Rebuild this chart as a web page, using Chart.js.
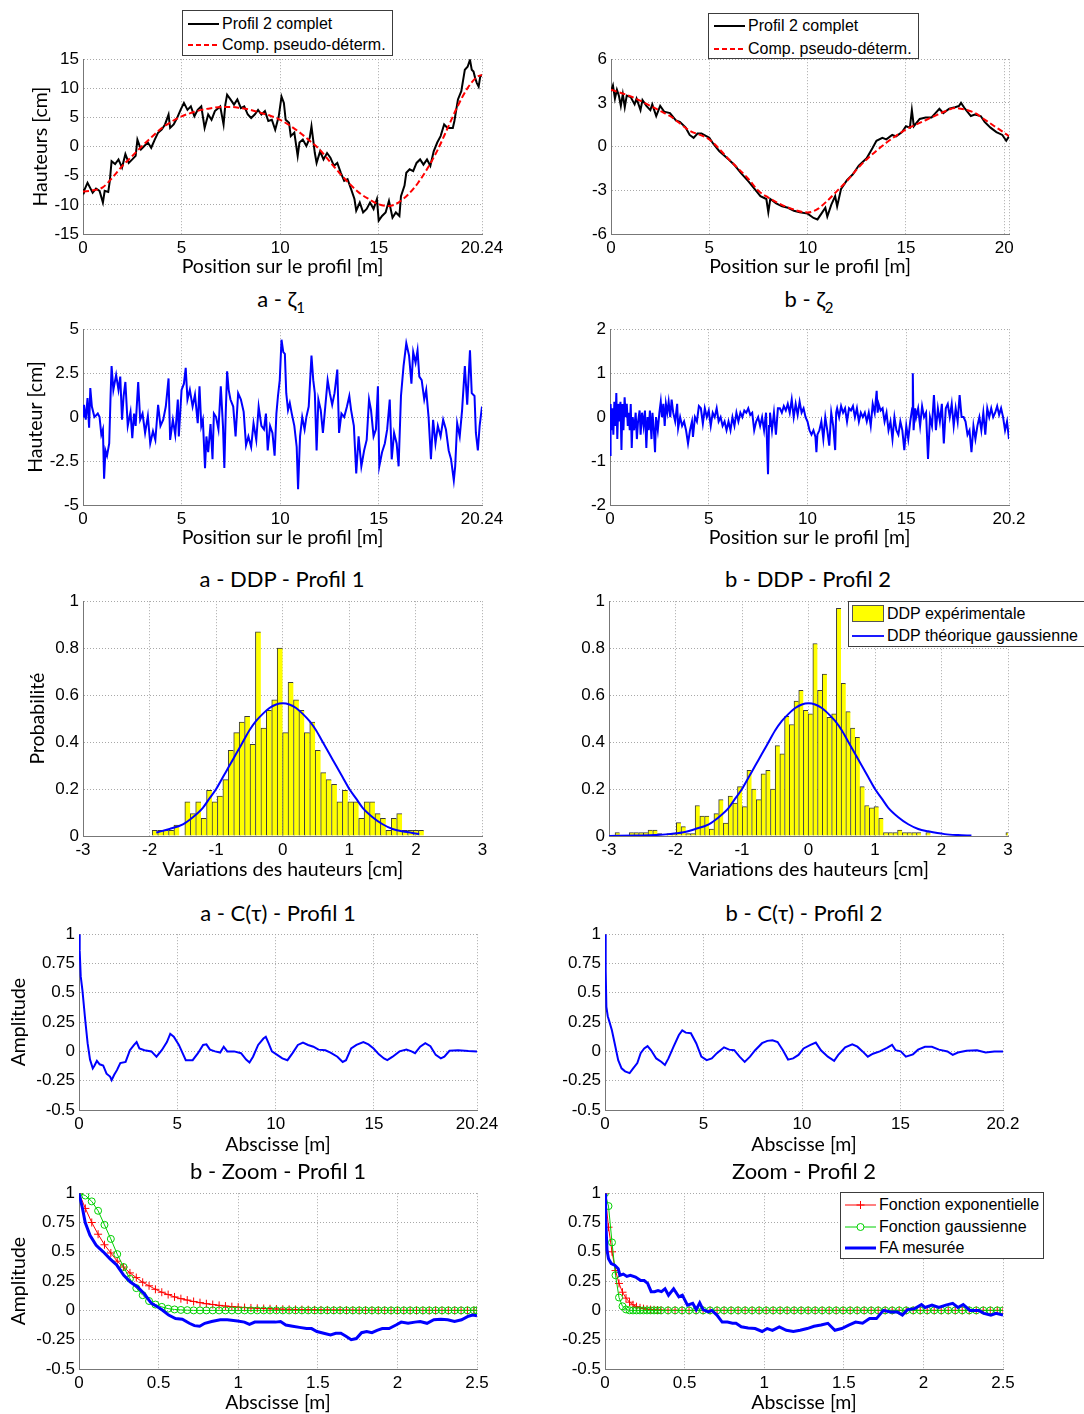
<!DOCTYPE html>
<html lang="fr">
<head>
<meta charset="utf-8">
<title>Profils - DDP - fonctions d'autocorrelation</title>
<script src="https://cdn.jsdelivr.net/npm/chart.js@4.4.1/dist/chart.umd.min.js"></script>
<style>
  html, body { margin: 0; padding: 0; background: #fff; }
  body { position: relative; width: 1084px; height: 1414px; overflow: hidden; font-family: "Liberation Sans", Arial, sans-serif; }
  canvas { position: absolute; }
  .ttl { position: absolute; transform: translate(-50%, -50%); font-family: Lato, "DejaVu Sans", sans-serif; font-size: 22px; color: #000; white-space: nowrap; }
  .ttl sub { font-size: 15px; vertical-align: -6px; }
  .leg { position: absolute; box-sizing: border-box; background: #fff; border: 1px solid #3c3c3c; font-size: 16px; color: #000; }
  .leg .row { position: absolute; height: 20px; display: flex; align-items: center; white-space: nowrap; }
  .leg svg { margin-right: 3px; }
</style>
</head>
<body>
<script>
// ---- profil 1 complet + composante pseudo-deterministe
var P1_X = [0,0.05,0.23,0.35,0.49,0.66,0.84,1.01,1.10,1.28,
  1.36,1.45,1.63,1.80,1.98,2.15,2.32,2.50,2.67,2.76,
  2.94,3.11,3.29,3.46,3.64,3.81,3.99,4.16,4.34,4.42,
  4.60,4.77,4.95,5.12,5.30,5.47,5.65,5.82,6.00,6.17,
  6.35,6.52,6.69,6.96,7.13,7.22,7.31,7.48,7.66,7.83,
  8.01,8.18,8.36,8.53,8.71,8.88,9.05,9.23,9.40,9.58,
  9.75,9.93,10.07,10.19,10.28,10.45,10.54,10.72,10.89,10.98,
  11.15,11.33,11.50,11.59,11.76,11.85,12.03,12.20,12.38,12.55,
  12.73,12.90,13.08,13.25,13.42,13.60,13.77,13.86,14.04,14.21,
  14.39,14.56,14.74,14.91,15.00,15.17,15.35,15.52,15.70,15.87,
  16.05,16.13,16.31,16.40,16.57,16.75,16.92,17.10,17.27,17.45,
  17.62,17.79,17.97,18.14,18.32,18.49,18.76,18.84,19.02,19.19,
  19.37,19.51,19.63,19.72,19.81,19.89,19.98,20.07,20.15,20.24];
var P1_Y = [-7.3,-7.6,-6.2,-7.0,-7.9,-7.2,-7.6,-9.6,-7.6,-7.8,
  -5.9,-2.5,-3.0,-2.2,-3.6,-1.3,-2.8,-2.2,-1.6,1.2,
  -0.5,0.1,0.7,-0.2,1.2,2.4,2.9,3.8,5.5,3.2,
  3.8,4.9,6.3,7.5,6.3,6.9,5.2,6.3,6.9,3.2,
  5.5,4.6,6.1,6.9,3.8,7.2,8.9,8.1,7.2,8.1,
  6.6,6.9,5.5,4.9,5.5,6.3,5.5,6.1,4.4,4.6,
  2.9,5.2,8.6,7.5,4.6,4.1,1.8,2.4,-1.6,0.7,
  1.2,0.1,1.5,3.5,-1.1,-2.8,-0.8,-2.2,-1.1,-1.9,
  -3.3,-2.8,-4.5,-5.9,-5.6,-7.3,-9.0,-11.0,-9.6,-11.3,
  -10.7,-9.6,-10.7,-9.0,-12.7,-11.9,-11.3,-9.3,-12.2,-11.3,
  -11.9,-8.5,-6.7,-4.5,-3.9,-4.2,-2.8,-2.2,-3.1,-2.2,
  -3.3,-0.8,0.7,1.8,3.8,3.2,3.2,4.4,8.1,9.5,
  13.2,13.7,14.9,13.2,12.9,11.8,10.9,10.3,12.0,12.3];
var P1_TREND_X = [0,0.5,1,1.5,2,2.5,3,3.5,4,4.5,5,5.5,6,6.5,7,7.5,8,8.5,9,9.5,
  10,10.5,11,11.5,12,12.5,13,13.5,14,14.5,15,15.5,16,16.5,17,17.5,18,18.5,19,19.5,20,20.24];
var P1_TREND_Y = [-7.7,-7.5,-7.0,-5.3,-3.3,-1.6,0.1,1.7,3.2,4.3,5.2,5.8,6.3,6.6,6.8,6.8,6.6,6.3,5.8,5.3,
  4.6,3.6,2.4,1.0,-0.5,-2.5,-4.5,-6.3,-7.9,-9.0,-9.9,-10.2,-9.6,-8.2,-6.2,-3.6,-0.5,3.2,6.9,10.0,12.0,12.3];

// ---- profil 2 complet + composante pseudo-deterministe
var P2_X = [0,0.1,0.2,0.3,0.4,0.5,0.6,0.7,0.8,1.0,
  1.2,1.3,1.5,1.6,1.8,2.0,2.1,2.3,2.5,2.7,
  3.0,3.3,3.5,3.8,4.0,4.2,4.4,4.6,5.0,5.2,
  5.5,6.0,6.3,6.6,7.0,7.3,7.6,7.9,8.0,8.1,
  8.4,8.7,9.0,9.3,9.6,10.0,10.3,10.5,10.7,10.9,
  11.0,11.2,11.4,11.5,11.7,12.0,12.3,12.6,13.0,13.3,
  13.5,13.8,14.0,14.3,14.5,14.8,15.0,15.2,15.3,15.4,
  15.7,16.0,16.3,16.5,16.7,16.9,17.2,17.5,17.7,17.8,
  18.0,18.3,18.5,18.8,19.0,19.3,19.6,19.9,20.1,20.24];
var P2_Y = [3.8,4.2,3.3,3.9,3.5,2.8,3.6,2.7,3.5,3.4,
  2.9,3.3,2.5,3.2,2.8,2.5,2.9,2.1,2.8,2.4,
  2.3,1.8,1.7,1.3,0.8,0.6,0.9,0.9,0.6,0.2,
  -0.3,-0.9,-1.3,-1.8,-2.4,-2.9,-3.4,-3.6,-4.5,-3.6,
  -3.9,-4.1,-4.2,-4.4,-4.5,-4.6,-4.9,-5.0,-4.6,-4.2,
  -4.8,-4.0,-3.4,-4.1,-2.9,-2.3,-1.9,-1.3,-0.8,-0.1,
  0.4,0.6,0.5,0.8,0.7,1.0,1.4,1.3,2.5,1.4,
  1.9,2.0,2.0,2.3,2.6,2.3,2.6,2.7,2.8,3.0,
  2.6,2.1,2.2,2.1,1.7,1.3,1.0,0.8,0.4,0.7];
var P2_TREND_X = [0,1,2,2.5,3,4,5,6,7,7.5,8,8.5,9,10,10.5,11,11.5,12,12.5,13,
  14,15,16,16.5,17,17.5,18,18.5,19,19.5,20,20.24];
var P2_TREND_Y = [3.9,3.45,2.8,2.45,2.1,1.1,0.49,-0.88,-2.24,-3.04,-3.5,-3.88,-4.18,-4.52,-4.29,-3.72,-3.04,-2.36,-1.56,-0.88,
  0.26,1.17,1.81,2.13,2.43,2.65,2.54,2.31,1.86,1.4,0.95,0.72];

// ---- composante aleatoire zeta 1
var Z1_X = [0,0.05,0.14,0.23,0.31,0.37,0.45,0.58,0.75,0.84,
  0.93,1.01,1.07,1.14,1.22,1.33,1.40,1.45,1.54,1.68,
  1.80,1.89,1.98,2.06,2.15,2.27,2.41,2.50,2.59,2.67,
  2.80,2.90,3.02,3.15,3.29,3.41,3.55,3.67,3.81,3.93,
  4.07,4.20,4.34,4.42,4.56,4.68,4.81,4.86,5.00,5.12,
  5.21,5.30,5.42,5.56,5.68,5.82,5.91,6.00,6.08,6.19,
  6.26,6.35,6.47,6.57,6.64,6.75,6.87,6.99,7.10,7.17,
  7.24,7.31,7.39,7.48,7.62,7.74,7.87,8.01,8.15,8.27,
  8.39,8.53,8.65,8.79,8.91,9.05,9.18,9.28,9.37,9.49,
  9.61,9.72,9.81,9.89,9.98,10.07,10.16,10.24,10.31,10.40,
  10.49,10.59,10.72,10.84,10.91,11.01,11.12,11.24,11.33,11.45,
  11.59,11.68,11.76,11.85,11.94,12.06,12.17,12.29,12.41,12.52,
  12.64,12.76,12.90,12.99,13.11,13.25,13.39,13.51,13.60,13.74,
  13.86,13.98,14.12,14.26,14.39,14.51,14.61,14.74,14.86,14.96,
  15.03,15.17,15.31,15.43,15.56,15.66,15.78,15.91,16.01,16.13,
  16.26,16.40,16.54,16.66,16.75,16.87,16.97,17.06,17.18,17.31,
  17.41,17.53,17.65,17.76,17.88,18.00,18.14,18.27,18.41,18.55,
  18.67,18.81,18.88,18.98,19.11,19.23,19.37,19.49,19.63,19.72,
  19.86,19.93,20.03,20.12,20.24];
var Z1_Y = [0.04,0.7,-0.15,1.08,-0.6,1.65,0.6,0,0.2,0,
  -1.0,-0.7,-3.5,-1.9,-2.2,-1.5,1.27,2.9,1.55,2.4,
  1.55,2.3,-0.15,1.2,2.0,-0.5,0.3,-1.2,0.2,-0.5,
  2.0,-0.15,0.2,-0.9,0.06,-1.5,-0.8,-1.3,0.7,-0.5,
  -0.15,0.6,2.2,-1.3,-0.15,-1.0,1.0,-1.1,1.55,1.9,
  2.8,1.0,1.55,0.6,1.27,-0.35,1.75,-0.5,-0.15,-2.9,
  -1.1,-2.0,-0.4,-2.4,0.2,0,-0.7,1.75,-0.5,-2.9,
  0.2,2.6,1.55,1.0,0.6,-1.1,1.36,1.0,0.3,-1.6,
  -1.1,-1.7,-0.35,-1.3,0.6,-0.5,-0.7,0.2,-1.9,-0.5,
  -0.9,-2.2,0.2,1.2,2.1,4.4,3.7,3.6,1.36,0.4,
  0.8,0.2,-0.5,-1.7,-4.1,-1.1,0,-0.7,0,0.6,
  3.5,2.1,1.36,-1.9,1.0,0.4,-0.9,0.6,2.1,1.36,
  0.7,1.36,2.7,-0.9,0.2,0,0.6,1.2,0.4,-0.5,
  -3.2,-1.1,-2.8,-1.9,-1.3,1.0,0.4,-1.1,-0.7,1.75,
  -2.8,-2.0,-1.5,-0.7,1.0,-2.4,-0.9,-1.5,-2.8,1.2,
  2.9,4.2,3.5,1.9,3.7,3.1,3.8,2.3,2.1,1.0,
  1.55,0,-2.4,-0.15,-1.5,-0.5,-1.1,-0.15,-0.7,-1.9,
  -2.4,-3.6,-2.8,-0.35,-1.1,0.4,2.9,0.7,3.8,1.36,
  1.2,-0.9,-1.9,-0.5,0.6];

// ---- composante aleatoire zeta 2
var Z2_X = [0,0.03,0.08,0.12,0.17,0.22,0.27,0.32,0.37,0.42,
  0.48,0.53,0.58,0.63,0.68,0.74,0.8,0.85,0.9,0.95,
  1,1.05,1.1,1.15,1.22,1.3,1.36,1.42,1.5,1.55,
  1.62,1.7,1.77,1.84,1.9,1.96,2.02,2.1,2.15,2.22,
  2.28,2.33,2.42,2.5,2.57,2.63,2.7,2.77,2.83,2.9,
  2.97,3.05,3.12,3.2,3.3,3.4,3.45,3.55,3.65,3.75,
  3.85,3.95,4.05,4.15,4.2,4.3,4.4,4.5,4.6,4.7,
  4.8,4.9,5,5.1,5.2,5.3,5.4,5.5,5.6,5.7,
  5.8,5.9,6,6.1,6.2,6.3,6.4,6.5,6.6,6.7,
  6.8,6.9,7,7.1,7.2,7.3,7.4,7.5,7.6,7.7,
  7.8,7.9,8,8.05,8.1,8.2,8.3,8.4,8.5,8.6,
  8.7,8.8,8.9,9,9.1,9.2,9.3,9.4,9.5,9.6,
  9.7,9.8,9.9,10,10.1,10.2,10.3,10.4,10.45,10.5,
  10.6,10.7,10.8,10.9,11,11.1,11.2,11.3,11.4,11.45,
  11.5,11.6,11.7,11.8,11.9,12,12.1,12.2,12.3,12.4,
  12.5,12.6,12.7,12.8,12.9,13,13.1,13.2,13.3,13.4,
  13.5,13.55,13.6,13.7,13.8,13.9,14,14.1,14.2,14.3,
  14.4,14.5,14.6,14.7,14.8,14.9,15,15.1,15.2,15.3,
  15.33,15.37,15.45,15.5,15.6,15.7,15.8,15.9,16,16.1,
  16.2,16.3,16.4,16.5,16.6,16.7,16.8,16.9,17,17.1,
  17.2,17.3,17.4,17.5,17.6,17.7,17.8,17.9,18,18.1,
  18.2,18.3,18.4,18.5,18.6,18.7,18.8,18.9,19,19.1,
  19.2,19.3,19.4,19.5,19.6,19.7,19.8,19.9,20,20.1,
  20.2];
var Z2_Y = [-0.86,0.3,-0.3,0.2,-0.4,0.35,-0.2,0.55,-0.5,0.3,
  -0.1,0.35,-0.75,0.3,-0.3,0.45,0,0.3,-0.2,0.1,
  -0.3,0.3,-0.7,0,-0.3,0.1,-0.5,-0.1,0.15,-0.4,
  0.1,-0.2,0.15,-0.7,0,-0.3,0.15,-0.5,0.1,-0.3,
  -0.8,0,-0.3,0.1,0.35,0,0.3,-0.2,0.3,0.1,
  0.35,0,0.4,0.1,-0.1,0.3,-0.25,0,-0.2,-0.1,
  -0.3,-0.6,-0.3,-0.1,-0.45,0,-0.1,0.25,0.2,-0.15,
  0.2,0,0.15,-0.2,0.1,0,0.2,-0.1,0,-0.2,
  -0.1,-0.3,-0.1,-0.3,0,-0.2,0.1,-0.1,0.1,0,
  0.15,0.1,0.2,0.05,0.1,-0.3,-0.1,0,-0.2,0,
  -0.3,0.1,-1.3,-0.2,0.1,-0.3,0.1,-0.4,0.2,0.2,
  0.1,0.25,0.15,0.3,0.1,0.4,0,0.3,0.05,0.35,
  0.1,0.2,0,-0.1,-0.3,-0.4,-0.3,-0.45,-0.8,-0.4,
  -0.3,-0.1,-0.5,0,-0.3,-0.65,0.1,-0.2,-0.75,0.1,
  0.2,0,0.25,0.1,0.2,-0.1,0.2,0.15,0.25,0,
  0.2,-0.1,0.1,0,0.1,-0.1,0.1,-0.2,0.3,0.1,
  0.6,0.1,0.3,0.15,0.2,-0.1,0.1,-0.3,-0.1,-0.5,
  0,-0.3,-0.4,-0.1,-0.3,-0.75,-0.2,-0.5,-0.1,0.2,
  1.0,-0.3,0.2,0,0.2,-0.2,0.25,0,0.1,-0.95,
  0,-0.2,0.5,-0.3,0.2,-0.1,0.3,-0.6,0.2,0.3,
  0,0.3,-0.2,0.2,-0.1,0.5,0,0,-0.1,-0.4,
  -0.3,-0.8,-0.2,-0.5,-0.2,0,-0.3,0.1,-0.4,0.2,
  0,0.2,0,0.1,0.25,0.05,0.2,0,-0.3,-0.1,
  -0.5];

// ---- DDP experimentales (centres de classes, probabilite)
var H1_X = [-1.920,-1.838,-1.757,-1.675,-1.594,-1.512,-1.430,-1.349,-1.267,-1.186,
  -1.104,-1.022,-0.941,-0.859,-0.778,-0.696,-0.614,-0.533,-0.451,-0.370,
  -0.288,-0.206,-0.125,-0.043,0.038,0.120,0.202,0.283,0.365,0.446,
  0.528,0.610,0.691,0.773,0.854,0.936,1.018,1.099,1.181,1.262,
  1.344,1.426,1.507,1.589,1.670,1.752,1.834,1.915,1.997,2.078];
var H1_Y = [0.024,0.024,0.024,0.024,0.047,0,0.145,0.095,0.145,0.075,
  0.195,0.145,0.17,0.24,0.365,0.44,0.485,0.51,0.39,0.87,
  0.46,0.535,0.58,0.80,0.44,0.655,0.58,0.535,0.44,0.485,
  0.365,0.27,0.24,0.22,0.145,0.195,0.145,0.145,0.075,0.145,
  0.145,0.095,0.075,0.024,0.075,0.095,0.024,0.024,0.024,0.024];
var H2_X = [-2.874,-2.661,-2.590,-2.520,-2.449,-2.378,-2.307,-2.236,-2.095,-2.024,
  -1.953,-1.882,-1.812,-1.741,-1.670,-1.599,-1.528,-1.458,-1.387,-1.316,
  -1.245,-1.174,-1.104,-1.033,-0.962,-0.891,-0.820,-0.750,-0.679,-0.608,
  -0.537,-0.466,-0.396,-0.325,-0.254,-0.183,-0.112,-0.042,0.029,0.100,
  0.171,0.242,0.312,0.383,0.454,0.525,0.596,0.666,0.737,0.808,
  0.879,0.950,1.020,1.091,1.162,1.233,1.304,1.374,1.445,1.516,
  1.587,1.658,1.799,3.003];
var H2_Y = [0.015,0.015,0.015,0.015,0.015,0.025,0.025,0.01,0.01,0.01,
  0.057,0.04,0.01,0.01,0.13,0.085,0.085,0.03,0.095,0.155,
  0.055,0.17,0.14,0.21,0.125,0.28,0.2,0.155,0.265,0.28,
  0.2,0.385,0.35,0.51,0.475,0.575,0.62,0.535,0.52,0.82,
  0.62,0.69,0.505,0.52,0.97,0.65,0.53,0.46,0.42,0.21,
  0.13,0.12,0.125,0.075,0.015,0.015,0.015,0.025,0.015,0.015,
  0.015,0.015,0.015,0.015];

// ---- DDP theoriques gaussiennes
var G1_X = [-1.9,-1.7,-1.5,-1.35,-1.2,-1.1,-1.0,-0.9,-0.8,-0.7,
  -0.6,-0.5,-0.4,-0.3,-0.2,-0.1,0,0.1,0.2,0.3,
  0.4,0.5,0.6,0.7,0.8,0.9,1.0,1.1,1.2,1.35,
  1.5,1.65,1.8,2.05];
var G1_Y = [0.015,0.03,0.05,0.08,0.12,0.16,0.2,0.25,0.3,0.35,
  0.4,0.45,0.49,0.52,0.545,0.56,0.565,0.56,0.545,0.52,
  0.49,0.45,0.4,0.35,0.3,0.25,0.2,0.16,0.12,0.08,
  0.05,0.03,0.02,0.008];
var G2_X = [-3,-2.6,-2.3,-2.1,-1.9,-1.7,-1.5,-1.35,-1.2,-1.1,
  -1.0,-0.9,-0.8,-0.7,-0.6,-0.5,-0.4,-0.3,-0.2,-0.1,
  0,0.1,0.2,0.3,0.4,0.5,0.6,0.7,0.8,0.9,
  1.0,1.1,1.2,1.35,1.5,1.65,1.8,2.05,2.25,2.45];
var G2_Y = [0,0.002,0.004,0.008,0.015,0.03,0.05,0.08,0.12,0.16,
  0.2,0.25,0.3,0.35,0.4,0.45,0.49,0.52,0.545,0.56,
  0.565,0.56,0.545,0.52,0.49,0.45,0.4,0.35,0.3,0.25,
  0.2,0.16,0.12,0.08,0.05,0.03,0.02,0.008,0.004,0.002];

// ---- fonctions d'autocorrelation mesurees
var C1_X = [0,0.035,0.088,0.175,0.315,0.438,0.56,0.70,0.79,0.91,
  1.05,1.23,1.40,1.58,1.66,1.79,1.93,2.10,2.37,2.59,
  2.80,2.93,3.07,3.33,3.68,3.94,4.21,4.47,4.64,4.82,
  5.08,5.43,5.78,6.05,6.31,6.48,6.66,6.92,7.18,7.36,
  7.54,7.89,8.24,8.50,8.67,8.85,9.11,9.38,9.50,9.64,
  9.81,10.08,10.34,10.60,10.86,11.13,11.39,11.65,11.92,12.18,
  12.53,12.79,13.14,13.41,13.58,13.84,14.11,14.46,14.72,14.98,
  15.25,15.51,15.68,15.95,16.30,16.65,16.91,17.09,17.35,17.61,
  17.87,18.14,18.40,18.58,18.84,19.28,19.80,20.24];
var C1_Y = [1.0,0.86,0.64,0.52,0.27,0.07,-0.07,-0.145,-0.12,-0.08,
  -0.11,-0.12,-0.19,-0.215,-0.245,-0.2,-0.16,-0.1,-0.09,0.01,
  0.055,0.08,0.025,0.01,0.0,-0.045,0.01,0.08,0.15,0.125,
  0.055,-0.075,-0.075,-0.015,0.055,0.06,0.015,0.0,-0.01,0.04,
  0.0,0.0,-0.015,-0.07,-0.095,-0.045,0.055,0.11,0.125,0.07,
  0.0,-0.03,-0.06,-0.075,-0.015,0.055,0.075,0.055,0.04,0.015,
  0.01,-0.01,-0.045,-0.09,-0.075,0.025,0.055,0.08,0.06,0.025,
  -0.025,-0.06,-0.075,-0.045,0.0,0.015,0.0,-0.015,0.04,0.07,
  0.045,-0.03,-0.06,-0.045,0.005,0.01,0.003,0.0];
var C2_X = [0,0.035,0.07,0.14,0.23,0.35,0.49,0.67,0.84,1.02,
  1.25,1.43,1.64,1.81,1.99,2.16,2.34,2.60,2.87,3.04,
  3.22,3.48,3.75,3.92,4.10,4.36,4.63,4.89,5.16,5.42,
  5.68,6.04,6.30,6.56,6.83,7.09,7.36,7.62,7.97,8.24,
  8.50,8.76,9.03,9.29,9.55,9.82,10.08,10.43,10.70,10.96,
  11.31,11.63,11.84,12.19,12.55,12.81,13.07,13.34,13.60,13.95,
  14.31,14.57,14.75,15.01,15.27,15.63,15.89,16.24,16.59,16.95,
  17.38,17.65,17.91,18.35,18.88,19.32,19.76,20.2];
var C2_Y = [1.0,0.69,0.38,0.30,0.25,0.18,0.07,-0.075,-0.145,-0.17,
  -0.185,-0.145,-0.1,-0.015,0.025,0.045,0.01,-0.06,-0.09,-0.115,
  -0.06,0.04,0.14,0.18,0.16,0.155,0.07,-0.045,-0.075,-0.06,
  -0.015,0.035,0.015,0.01,-0.045,-0.09,-0.045,0.01,0.07,0.09,
  0.095,0.08,0.01,-0.07,-0.06,-0.03,0.025,0.055,0.075,0.01,
  -0.045,-0.08,-0.03,0.035,0.06,0.04,0.0,-0.045,-0.02,0.0,
  0.03,0.055,0.01,0.0,-0.045,-0.025,0.015,0.04,0.04,0.015,
  0.0,-0.03,-0.01,0.005,0.01,-0.01,0.0,0.0];

// ---- zoom : FA mesuree + modeles exponentiel / gaussien
var F1_X = [0,0.022,0.039,0.069,0.108,0.152,0.195,0.238,0.281,0.325,
  0.368,0.411,0.455,0.487,0.519,0.563,0.606,0.649,0.693,0.725,
  0.758,0.790,0.833,0.887,0.931,0.996,1.039,1.071,1.104,1.169,
  1.234,1.266,1.299,1.342,1.385,1.429,1.461,1.494,1.537,1.580,
  1.613,1.645,1.677,1.710,1.742,1.775,1.807,1.840,1.872,1.905,
  1.948,1.991,2.024,2.067,2.110,2.143,2.186,2.229,2.273,2.316,
  2.359,2.403,2.446,2.472,2.5];
var F1_Y = [1.0,0.87,0.75,0.64,0.555,0.50,0.44,0.385,0.30,0.24,
  0.20,0.14,0.06,0.035,0.007,-0.04,-0.07,-0.075,-0.11,-0.13,
  -0.135,-0.11,-0.095,-0.08,-0.08,-0.09,-0.10,-0.12,-0.10,-0.10,
  -0.10,-0.095,-0.125,-0.135,-0.145,-0.155,-0.155,-0.18,-0.195,-0.21,
  -0.195,-0.195,-0.22,-0.25,-0.24,-0.19,-0.18,-0.19,-0.17,-0.155,
  -0.155,-0.125,-0.10,-0.11,-0.10,-0.095,-0.11,-0.08,-0.075,-0.08,
  -0.095,-0.08,-0.05,-0.04,-0.045];
var M1_X = [0,0.04,0.08,0.12,0.16,0.2,0.24,0.28,0.32,0.36,
  0.4,0.44,0.48,0.52,0.56,0.6,0.64,0.68,0.72,0.76,
  0.8,0.84,0.88,0.92,0.96,1,1.04,1.08,1.12,1.16,
  1.2,1.24,1.28,1.32,1.36,1.4,1.44,1.48,1.52,1.56,
  1.6,1.64,1.68,1.72,1.76,1.8,1.84,1.88,1.92,1.96,
  2,2.04,2.08,2.12,2.16,2.2,2.24,2.28,2.32,2.36,
  2.4,2.44,2.48,2.5];
var EXP1_Y = [1.0,0.87,0.75,0.65,0.56,0.49,0.42,0.37,0.32,0.28,
  0.24,0.21,0.18,0.155,0.135,0.115,0.1,0.088,0.076,0.066,
  0.057,0.05,0.043,0.037,0.032,0.028,0.024,0.021,0.018,0.016,
  0.014,0.012,0.01,0.009,0.008,0.007,0.006,0.005,0.004,0.004,
  0.003,0.003,0.002,0.002,0.001,0.001,0.001,0.001,0,0,
  0,0,0,0,0,0,0,0,0,0,
  0,0,0,0];
var GAU1_Y = [1.0,0.98,0.93,0.85,0.73,0.61,0.48,0.37,0.27,0.19,
  0.13,0.08,0.05,0.03,0.015,0.008,0.004,0.002,0,0,
  0,0,0,0,0,0,0,0,0,0,
  0,0,0,0,0,0,0,0,0,0,
  0,0,0,0,0,0,0,0,0,0,
  0,0,0,0,0,0,0,0,0,0,
  0,0,0,0];
var F2_X = [0,0.004,0.009,0.013,0.022,0.039,0.061,0.083,0.094,0.115,
  0.137,0.159,0.192,0.224,0.246,0.268,0.29,0.311,0.333,0.355,
  0.377,0.399,0.431,0.464,0.486,0.518,0.551,0.573,0.595,0.616,
  0.649,0.671,0.703,0.736,0.769,0.801,0.823,0.856,0.899,0.943,
  0.987,1.019,1.052,1.095,1.139,1.183,1.226,1.27,1.313,1.357,
  1.400,1.444,1.487,1.531,1.574,1.618,1.662,1.705,1.749,1.792,
  1.836,1.868,1.901,1.945,1.988,2.010,2.054,2.097,2.141,2.184,
  2.217,2.250,2.293,2.348,2.38,2.424,2.456,2.5];
var F2_Y = [1.0,0.80,0.63,0.51,0.44,0.40,0.385,0.355,0.30,0.31,
  0.29,0.30,0.285,0.255,0.255,0.23,0.16,0.16,0.17,0.16,
  0.185,0.13,0.185,0.115,0.13,0.045,0.06,0.007,0.065,0.007,
  -0.013,0.0,-0.04,-0.10,-0.10,-0.11,-0.11,-0.14,-0.15,-0.155,
  -0.18,-0.155,-0.17,-0.14,-0.17,-0.18,-0.17,-0.155,-0.135,-0.125,
  -0.11,-0.17,-0.155,-0.125,-0.10,-0.11,-0.07,-0.07,0.0,-0.013,
  -0.013,-0.04,0.007,0.015,0.05,0.025,0.045,0.025,0.045,0.06,
  0.025,0.05,0.0,0.0,-0.025,-0.04,-0.025,-0.04];
var M2_X = [0,0.022,0.044,0.066,0.088,0.11,0.132,0.154,0.176,0.198,
  0.22,0.242,0.264,0.286,0.308,0.33,0.352,0.396,0.44,0.484,
  0.528,0.572,0.616,0.66,0.704,0.748,0.792,0.836,0.88,0.924,
  0.968,1.012,1.056,1.1,1.144,1.188,1.232,1.276,1.32,1.364,
  1.408,1.452,1.496,1.54,1.584,1.628,1.672,1.716,1.76,1.804,
  1.848,1.892,1.936,1.98,2.024,2.068,2.112,2.156,2.2,2.244,
  2.288,2.332,2.376,2.42,2.464,2.5];
var EXP2_Y = [1.0,0.71,0.5,0.34,0.23,0.155,0.105,0.07,0.048,0.032,
  0.022,0.015,0.01,0.007,0.005,0.003,0.002,0.001,0.001,0,
  0,0,0,0,0,0,0,0,0,0,
  0,0,0,0,0,0,0,0,0,0,
  0,0,0,0,0,0,0,0,0,0,
  0,0,0,0,0,0,0,0,0,0,
  0,0,0,0,0,0];
var GAU2_Y = [1.0,0.89,0.58,0.3,0.11,0.035,0.008,0.001,0,0,
  0,0,0,0,0,0,0,0,0,0,
  0,0,0,0,0,0,0,0,0,0,
  0,0,0,0,0,0,0,0,0,0,
  0,0,0,0,0,0,0,0,0,0,
  0,0,0,0,0,0,0,0,0,0,
  0,0,0,0,0,0];

// ---- graduations
var XT_PROF1 = [0,5,10,15,20.24];          var XL_PROF1 = ['0','5','10','15','20.24'];
var XT_PROF2 = [0,5,10,15,20,20.24];       var XL_PROF2 = ['0','5','10','15','20',''];
var XT_PROF2B = [0,5,10,15,20.2];          var XL_PROF2B = ['0','5','10','15','20.2'];
var YT_H1 = [-15,-10,-5,0,5,10,15];        var YL_H1 = ['-15','-10','-5','0','5','10','15'];
var YT_H2 = [-6,-3,0,3,6];                 var YL_H2 = ['-6','-3','0','3','6'];
var YT_Z1 = [-5,-2.5,0,2.5,5];             var YL_Z1 = ['-5','-2.5','0','2.5','5'];
var YT_Z2 = [-2,-1,0,1,2];                 var YL_Z2 = ['-2','-1','0','1','2'];
var XT_DDP = [-3,-2,-1,0,1,2,3];           var XL_DDP = ['-3','-2','-1','0','1','2','3'];
var YT_DDP = [0,0.2,0.4,0.6,0.8,1];        var YL_DDP = ['0','0.2','0.4','0.6','0.8','1'];
var YT_FA = [-0.5,-0.25,0,0.25,0.5,0.75,1]; var YL_FA = ['-0.5','-0.25','0','0.25','0.5','0.75','1'];
var XT_ZOOM = [0,0.5,1,1.5,2,2.5];         var XL_ZOOM = ['0','0.5','1','1.5','2','2.5'];

var FONT_TICK = { family: "'Liberation Sans', Arial, sans-serif", size: 17 };
var FONT_LAB = { family: "Lato, 'DejaVu Sans', sans-serif", size: 19.5 };

function pts(xs, ys) {
  return xs.map(function (x, i) { return { x: x, y: ys[i] }; });
}

function axis(horizontal, a, size, titlePad) {
  return {
    type: 'linear', min: a.min, max: a.max, offset: false,
    afterBuildTicks: function (s) { s.ticks = a.ticks.map(function (v) { return { value: v }; }); },
    afterFit: function (s) { if (horizontal) { s.height = size; } else { s.width = size; } },
    ticks: {
      autoSkip: false, maxRotation: 0, minRotation: 0, padding: 4, color: '#000', font: FONT_TICK,
      callback: function (v, i) { return a.labels[i]; }
    },
    grid: { color: '#a8a8a8', lineWidth: 1, drawTicks: false, offset: false },
    border: { display: true, color: '#777', width: 1, dash: [1, 2] },
    title: { display: !!a.title, text: a.title || '', color: '#000', font: FONT_LAB, padding: titlePad }
  };
}

function panel(p, type, datasets, ax, ay) {
  var PAD_T = 14, PAD_R = 32, XH = 50;
  var left = p.l - p.yw, top = p.t - PAD_T;
  var lh = FONT_LAB.size * 1.2;
  var cv = document.createElement('canvas');
  cv.width = Math.round(p.r + PAD_R - left);
  cv.height = Math.round(p.b + XH - top);
  cv.style.left = left + 'px';
  cv.style.top = top + 'px';
  document.body.appendChild(cv);
  new Chart(cv, {
    type: type,
    data: { datasets: datasets },
    options: {
      responsive: false, animation: false, events: [], devicePixelRatio: 1,
      layout: { padding: { left: 0, top: PAD_T, right: cv.width - (p.r - left), bottom: 0 } },
      plugins: { legend: { display: false }, tooltip: { enabled: false } },
      scales: {
        x: axis(true, ax, XH, { top: 0, bottom: XH - p.xto - lh / 2 }),
        y: axis(false, ay, p.yw, { top: Math.max(0, (p.ytc || 0) - left - lh / 2), bottom: 0 })
      }
    }
  });
}

function line(xs, ys, color, width, extra) {
  var d = { data: pts(xs, ys), borderColor: color, borderWidth: width, pointRadius: 0, fill: false, tension: 0 };
  for (var k in (extra || {})) d[k] = extra[k];
  return d;
}

function bars(xs, ys) {
  return { type: 'bar', data: pts(xs, ys), backgroundColor: '#ffff00', borderColor: '#3a3a3a',
           borderWidth: { top: 1, left: 1, right: 0, bottom: 0 }, borderSkipped: false,
           barPercentage: 1, categoryPercentage: 1, order: 1 };
}

function title(cx, cy, html) {
  var d = document.createElement('div');
  d.className = 'ttl';
  d.style.left = cx + 'px';
  d.style.top = cy + 'px';
  d.innerHTML = html;
  document.body.appendChild(d);
}

function legend(x, y, w, h, rows) {
  var box = document.createElement('div');
  box.className = 'leg';
  box.style.left = x + 'px'; box.style.top = y + 'px';
  box.style.width = w + 'px'; box.style.height = h + 'px';
  rows.forEach(function (r) {
    var row = document.createElement('div');
    row.className = 'row';
    row.style.left = r[0] + 'px';
    row.style.top = (r[1] - 10) + 'px';
    row.innerHTML = r[2] + '<span>' + r[3] + '</span>';
    box.appendChild(row);
  });
  document.body.appendChild(box);
}

var S_BLACK = '<svg width="31" height="12"><line x1="0" y1="6" x2="31" y2="6" stroke="#000" stroke-width="2"/></svg>';
var S_RED_DASH = '<svg width="31" height="12"><line x1="0" y1="6" x2="31" y2="6" stroke="#f00" stroke-width="2" stroke-dasharray="5,3"/></svg>';
var S_YELLOW = '<svg width="32" height="18"><rect x="0.5" y="0.5" width="31" height="16" fill="#ff0" stroke="#555"/></svg>';
var S_BLUE = '<svg width="32" height="12"><line x1="0" y1="6" x2="32" y2="6" stroke="#00f" stroke-width="1.8"/></svg>';
var S_BLUE_THICK = '<svg width="31" height="12"><line x1="0" y1="6" x2="31" y2="6" stroke="#00f" stroke-width="3"/></svg>';
var S_EXP = '<svg width="31" height="12"><line x1="0" y1="6" x2="31" y2="6" stroke="#f00" stroke-width="1"/><path d="M15.5 2v8M11.5 6h8" stroke="#f00" stroke-width="1"/></svg>';
var S_GAU = '<svg width="31" height="12"><line x1="0" y1="6" x2="31" y2="6" stroke="#00d000" stroke-width="1"/><circle cx="15.5" cy="6" r="3.5" fill="#fff" stroke="#00d000"/></svg>';

var POS = 'Position sur le profil [m]';

// ligne 1 : profils complets
panel({ l: 83, t: 59, r: 482, b: 234, yw: 78, ytc: 40.5, xto: 33 }, 'line',
  [line(P1_TREND_X, P1_TREND_Y, '#ff0000', 2, { borderDash: [6, 3], cubicInterpolationMode: 'monotone', order: 0 }),
   line(P1_X, P1_Y, '#000000', 2, { order: 1 })],
  { min: 0, max: 20.24, ticks: XT_PROF1, labels: XL_PROF1, title: POS },
  { min: -15, max: 15, ticks: YT_H1, labels: YL_H1, title: 'Hauteurs [cm]' });
panel({ l: 611, t: 59, r: 1009, b: 234, yw: 60, xto: 33 }, 'line',
  [line(P2_TREND_X, P2_TREND_Y, '#ff0000', 2, { borderDash: [6, 3], cubicInterpolationMode: 'monotone', order: 0 }),
   line(P2_X, P2_Y, '#000000', 2, { order: 1 })],
  { min: 0, max: 20.24, ticks: XT_PROF2, labels: XL_PROF2, title: POS },
  { min: -6, max: 6, ticks: YT_H2, labels: YL_H2 });
legend(182, 10, 211, 46, [[5, 13, S_BLACK, 'Profil 2 complet'], [5, 34, S_RED_DASH, 'Comp. pseudo-déterm.']]);
legend(708, 13, 211, 46, [[5, 12, S_BLACK, 'Profil 2 complet'], [5, 35, S_RED_DASH, 'Comp. pseudo-déterm.']]);

// ligne 2 : composantes aleatoires
title(281, 300, 'a - ζ<sub>1</sub>');
title(809, 300, 'b - ζ<sub>2</sub>');
panel({ l: 83, t: 329, r: 482, b: 505, yw: 78, ytc: 35.5, xto: 33 }, 'line',
  [line(Z1_X, Z1_Y, '#0000ff', 2)],
  { min: 0, max: 20.24, ticks: XT_PROF1, labels: XL_PROF1, title: POS },
  { min: -5, max: 5, ticks: YT_Z1, labels: YL_Z1, title: 'Hauteur [cm]' });
panel({ l: 610, t: 329, r: 1009, b: 505, yw: 60, xto: 33 }, 'line',
  [line(Z2_X, Z2_Y, '#0000ff', 2)],
  { min: 0, max: 20.2, ticks: XT_PROF2B, labels: XL_PROF2B, title: POS },
  { min: -2, max: 2, ticks: YT_Z2, labels: YL_Z2 });

// ligne 3 : DDP
title(282, 578, 'a - DDP - Profil 1');
title(808, 578, 'b - DDP - Profil 2');
panel({ l: 82.5, t: 601, r: 482, b: 836, yw: 78, ytc: 37.5, xto: 34 }, 'bar',
  [bars(H1_X, H1_Y),
   line(G1_X, G1_Y, '#0000ff', 2, { type: 'line', cubicInterpolationMode: 'monotone', order: 0 })],
  { min: -3, max: 3, ticks: XT_DDP, labels: XL_DDP, title: 'Variations des hauteurs [cm]' },
  { min: 0, max: 1, ticks: YT_DDP, labels: YL_DDP, title: 'Probabilité' });
panel({ l: 609, t: 601, r: 1008, b: 836, yw: 60, xto: 34 }, 'bar',
  [bars(H2_X, H2_Y),
   line(G2_X, G2_Y, '#0000ff', 2, { type: 'line', cubicInterpolationMode: 'monotone', order: 0 })],
  { min: -3, max: 3, ticks: XT_DDP, labels: XL_DDP, title: 'Variations des hauteurs [cm]' },
  { min: 0, max: 1, ticks: YT_DDP, labels: YL_DDP });
legend(848, 601, 240, 46, [[3, 12, S_YELLOW, 'DDP expérimentale'], [3, 34, S_BLUE, 'DDP théorique gaussienne']]);

// ligne 4 : fonctions d'autocorrelation
title(278, 912, 'a - C(τ) - Profil 1');
title(804, 912, 'b - C(τ) - Profil 2');
panel({ l: 79, t: 934, r: 477, b: 1110, yw: 78, ytc: 19, xto: 35 }, 'line',
  [line(C1_X, C1_Y, '#0000ff', 2)],
  { min: 0, max: 20.24, ticks: XT_PROF1, labels: XL_PROF1, title: 'Abscisse [m]' },
  { min: -0.5, max: 1, ticks: YT_FA, labels: YL_FA, title: 'Amplitude' });
panel({ l: 605, t: 934, r: 1003, b: 1110, yw: 60, xto: 35 }, 'line',
  [line(C2_X, C2_Y, '#0000ff', 2)],
  { min: 0, max: 20.2, ticks: XT_PROF2B, labels: XL_PROF2B, title: 'Abscisse [m]' },
  { min: -0.5, max: 1, ticks: YT_FA, labels: YL_FA });

// ligne 5 : zooms avec modeles
title(278, 1170, 'b - Zoom - Profil 1');
title(804, 1170, 'Zoom - Profil 2');
var MK_EXP = { pointStyle: 'cross', pointRadius: 4, pointBorderColor: '#ff0000', pointBorderWidth: 1, order: 2 };
var MK_GAU = { pointStyle: 'circle', pointRadius: 3.5, pointBorderColor: '#00d000', pointBackgroundColor: 'rgba(0,0,0,0)', pointBorderWidth: 1, order: 1 };
panel({ l: 79, t: 1193, r: 477, b: 1369, yw: 78, ytc: 19, xto: 34 }, 'line',
  [line(M1_X, EXP1_Y, '#ff0000', 1, MK_EXP),
   line(M1_X, GAU1_Y, '#00d000', 1, MK_GAU),
   line(F1_X, F1_Y, '#0000ff', 3, { order: 0 })],
  { min: 0, max: 2.5, ticks: XT_ZOOM, labels: XL_ZOOM, title: 'Abscisse [m]' },
  { min: -0.5, max: 1, ticks: YT_FA, labels: YL_FA, title: 'Amplitude' });
panel({ l: 605, t: 1193, r: 1003, b: 1369, yw: 60, xto: 34 }, 'line',
  [line(M2_X, EXP2_Y, '#ff0000', 1, MK_EXP),
   line(M2_X, GAU2_Y, '#00d000', 1, MK_GAU),
   line(F2_X, F2_Y, '#0000ff', 3, { order: 0 })],
  { min: 0, max: 2.5, ticks: XT_ZOOM, labels: XL_ZOOM, title: 'Abscisse [m]' },
  { min: -0.5, max: 1, ticks: YT_FA, labels: YL_FA });
legend(840, 1192, 204, 67, [[4, 12, S_EXP, 'Fonction exponentielle'], [4, 34, S_GAU, 'Fonction gaussienne'], [4, 55, S_BLUE_THICK, 'FA mesurée']]);
</script>
</body>
</html>
